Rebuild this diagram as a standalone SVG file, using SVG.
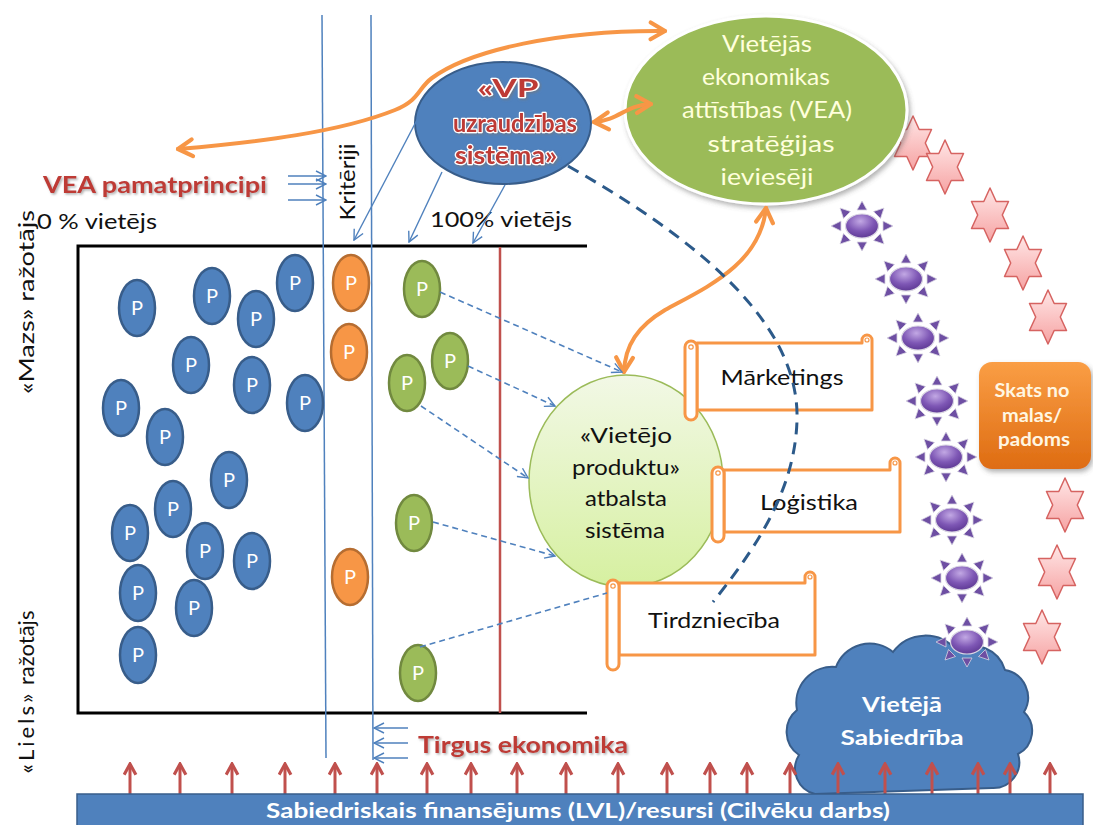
<svg xmlns="http://www.w3.org/2000/svg" width="1093" height="825" viewBox="0 0 1093 825">
<defs>
<style>
text{font-family:Lato,"Liberation Sans",sans-serif}
.pb{fill:#4F81BD;stroke:#385D8A;stroke-width:2.5}
.po{fill:#F79646;stroke:#B66D31;stroke-width:2.5}
.pg{fill:#9BBB59;stroke:#71893F;stroke-width:2.5}
.pt{fill:#fff;font-size:20px;text-anchor:middle}
.red{fill:#BE3A36;font-weight:bold;filter:url(#ts)}
.lbl{fill:#111;font-size:22px}
.scroll{fill:#fff;stroke:#F79646;stroke-width:3;stroke-linejoin:round}
.thin{fill:none;stroke:#4F81BD;stroke-width:1.4}
.dsh{fill:none;stroke:#4F81BD;stroke-width:1.6;stroke-dasharray:6 4}
.or{fill:none;stroke:#F79646;stroke-width:4;stroke-linecap:round}
.ra{stroke:#C0504D;stroke-width:3;marker-end:url(#ar)}
.mid{text-anchor:middle}
.glow{stroke:#fff;stroke-width:2.5;paint-order:stroke;stroke-linejoin:round}
</style>
<filter id="ts" x="-5%" y="-20%" width="110%" height="150%"><feDropShadow dx="1.5" dy="1.5" stdDeviation="1" flood-color="#777" flood-opacity="0.6"/></filter>
<filter id="sh" x="-10%" y="-10%" width="120%" height="130%"><feDropShadow dx="2" dy="3" stdDeviation="2.5" flood-color="#555" flood-opacity="0.45"/></filter>
<marker id="ao" viewBox="0 0 20 20" refX="16" refY="10" markerWidth="24" markerHeight="24" markerUnits="userSpaceOnUse" orient="auto-start-reverse"><path d="M4,3 L16,10 L4,17" fill="none" stroke="#F79646" stroke-width="3.5" stroke-linecap="round" stroke-linejoin="round"/></marker>
<marker id="ab" viewBox="0 0 12 12" refX="11" refY="6" markerWidth="12" markerHeight="12" markerUnits="userSpaceOnUse" orient="auto"><path d="M1,1 L11,6 L1,11" fill="none" stroke="#4F81BD" stroke-width="1.4"/></marker>
<marker id="ar" viewBox="0 0 14 14" refX="12" refY="7" markerWidth="15" markerHeight="15" markerUnits="userSpaceOnUse" orient="auto"><path d="M2,1.5 L12,7 L2,12.5" fill="none" stroke="#C0504D" stroke-width="3"/></marker>
<linearGradient id="gc" x1="0" y1="0" x2="0" y2="1"><stop offset="0" stop-color="#F2F8E6"/><stop offset="1" stop-color="#D6F0A0"/></linearGradient>
<linearGradient id="gob" x1="0" y1="0" x2="0" y2="1"><stop offset="0" stop-color="#FA9E45"/><stop offset="1" stop-color="#DE6C12"/></linearGradient>
<linearGradient id="gst" x1="0" y1="0" x2="0" y2="1"><stop offset="0" stop-color="#FFE6E6"/><stop offset="1" stop-color="#F6A3A3"/></linearGradient>
<radialGradient id="gsun" cx="0.45" cy="0.3" r="0.75"><stop offset="0" stop-color="#C2A8E4"/><stop offset="0.55" stop-color="#7E57B5"/><stop offset="1" stop-color="#5A3590"/></radialGradient>
<g id="star"><polygon points="0,-27 6.2,-13.5 18.5,-13.5 12.3,0 18.5,13.5 6.2,13.5 0,27 -6.2,13.5 -18.5,13.5 -12.3,0 -18.5,-13.5 -6.2,-13.5" fill="url(#gst)" stroke="#D66361" stroke-width="1.5" stroke-linejoin="round"/></g>
<g id="sun"><g fill="#6E4FA3" stroke="#D8D4E2" stroke-width="0.8"><polygon points="31,0 21,-5 21,5"/><polygon points="-31,0 -21,-5 -21,5"/><polygon points="0,25 -5,16 5,16"/><polygon points="0,-25 -5,-16 5,-16"/><polygon points="22,18 11.5,14.5 18.5,7.5"/><polygon points="-22,18 -11.5,14.5 -18.5,7.5"/><polygon points="-22,-18 -11.5,-14.5 -18.5,-7.5"/><polygon points="22,-18 11.5,-14.5 18.5,-7.5"/></g><ellipse rx="16.5" ry="12" fill="url(#gsun)" stroke="#D8D4E2" stroke-width="1.2"/></g>
</defs>
<rect width="1093" height="825" fill="#fff"/>

<g id="frame">
<path d="M587,246 H78 V713 H587" fill="none" stroke="#000" stroke-width="3"/>
<line x1="500" y1="247" x2="500" y2="713" stroke="#C0504D" stroke-width="2.5"/>
<line x1="322" y1="15" x2="326" y2="758" stroke="#4F81BD" stroke-width="1.5"/>
<line x1="371" y1="15" x2="373" y2="760" stroke="#4F81BD" stroke-width="1.5"/>
</g>

<g id="labels-axes">
<text transform="translate(34,302) rotate(-90)" class="lbl mid" font-size="21" textLength="184" lengthAdjust="spacingAndGlyphs">«Mazs» ražotājs</text>
<text transform="translate(34,692) rotate(-90)" class="lbl mid" font-size="23"><tspan letter-spacing="3">«Liels»</tspan> ražotājs</text>
<text x="97" y="229" class="lbl mid" textLength="120" lengthAdjust="spacingAndGlyphs">0 % vietējs</text>
<text x="501" y="227" class="lbl mid" textLength="142" lengthAdjust="spacingAndGlyphs">100% vietējs</text>
<text transform="translate(355,182) rotate(-90)" class="lbl mid" font-size="21" textLength="77" lengthAdjust="spacingAndGlyphs">Kritēriji</text>
<text x="155" y="193" class="red mid" font-size="23" textLength="224" lengthAdjust="spacingAndGlyphs">VEA  pamatprincipi</text>
<text x="523" y="753" class="red mid" font-size="22" textLength="210" lengthAdjust="spacingAndGlyphs">Tirgus  ekonomika</text>
</g>

<g id="producers">
<g id="pb1"><ellipse class="pb" cx="137" cy="308" rx="18" ry="28"/><text class="pt" x="137" y="315">P</text></g>
<g id="pb2"><ellipse class="pb" cx="212" cy="296" rx="18" ry="28"/><text class="pt" x="212" y="303">P</text></g>
<g id="pb3"><ellipse class="pb" cx="256" cy="319" rx="18" ry="28"/><text class="pt" x="256" y="326">P</text></g>
<g id="pb4"><ellipse class="pb" cx="295" cy="283" rx="18" ry="28"/><text class="pt" x="295" y="290">P</text></g>
<g id="pb5"><ellipse class="pb" cx="191" cy="365" rx="18" ry="28"/><text class="pt" x="191" y="372">P</text></g>
<g id="pb6"><ellipse class="pb" cx="252" cy="385" rx="18" ry="28"/><text class="pt" x="252" y="392">P</text></g>
<g id="pb7"><ellipse class="pb" cx="305" cy="403" rx="18" ry="28"/><text class="pt" x="305" y="410">P</text></g>
<g id="pb8"><ellipse class="pb" cx="121" cy="408" rx="18" ry="28"/><text class="pt" x="121" y="415">P</text></g>
<g id="pb9"><ellipse class="pb" cx="165" cy="437" rx="18" ry="28"/><text class="pt" x="165" y="444">P</text></g>
<g id="pb10"><ellipse class="pb" cx="229" cy="480" rx="18" ry="28"/><text class="pt" x="229" y="487">P</text></g>
<g id="pb11"><ellipse class="pb" cx="173" cy="509" rx="18" ry="28"/><text class="pt" x="173" y="516">P</text></g>
<g id="pb12"><ellipse class="pb" cx="130" cy="533" rx="18" ry="28"/><text class="pt" x="130" y="540">P</text></g>
<g id="pb13"><ellipse class="pb" cx="205" cy="551" rx="18" ry="28"/><text class="pt" x="205" y="558">P</text></g>
<g id="pb14"><ellipse class="pb" cx="252" cy="561" rx="18" ry="28"/><text class="pt" x="252" y="568">P</text></g>
<g id="pb15"><ellipse class="pb" cx="138" cy="593" rx="18" ry="28"/><text class="pt" x="138" y="600">P</text></g>
<g id="pb16"><ellipse class="pb" cx="194" cy="608" rx="18" ry="28"/><text class="pt" x="194" y="615">P</text></g>
<g id="pb17"><ellipse class="pb" cx="138" cy="655" rx="18" ry="28"/><text class="pt" x="138" y="662">P</text></g>
<g id="po1"><ellipse class="po" cx="351" cy="283" rx="18" ry="28"/><text class="pt" x="351" y="290">P</text></g>
<g id="po2"><ellipse class="po" cx="349" cy="352" rx="18" ry="28"/><text class="pt" x="349" y="359">P</text></g>
<g id="po3"><ellipse class="po" cx="350" cy="577" rx="18" ry="28"/><text class="pt" x="350" y="584">P</text></g>
<g id="pg1"><ellipse class="pg" cx="422" cy="289" rx="18" ry="28"/><text class="pt" x="422" y="296">P</text></g>
<g id="pg2"><ellipse class="pg" cx="450" cy="361" rx="18" ry="28"/><text class="pt" x="450" y="368">P</text></g>
<g id="pg3"><ellipse class="pg" cx="407" cy="383" rx="18" ry="28"/><text class="pt" x="407" y="390">P</text></g>
<g id="pg4"><ellipse class="pg" cx="414" cy="523" rx="18" ry="28"/><text class="pt" x="414" y="530">P</text></g>
<g id="pg5"><ellipse class="pg" cx="418" cy="673" rx="18" ry="28"/><text class="pt" x="418" y="680">P</text></g>
</g>

<g id="cloud">
<path d="M815,794 A26,26 0 0 1 799,755 A28,28 0 0 1 797,710 A36,36 0 0 1 836,667 A36,36 0 0 1 893,652 A40,40 0 0 1 956,650 A34,34 0 0 1 1005,670 A28,28 0 0 1 1024,712 A26,26 0 0 1 1018,754 A26,26 0 0 1 992,788 Z" fill="#4F81BD" stroke="#385D8A" stroke-width="2"/>
<text x="902" y="712" class="mid" fill="#fff" font-weight="bold" font-size="21" textLength="80" lengthAdjust="spacingAndGlyphs">Vietējā</text>
<text x="902" y="745" class="mid" fill="#fff" font-weight="bold" font-size="21" textLength="123" lengthAdjust="spacingAndGlyphs">Sabiedrība</text>
</g>

<g id="stars">
<use href="#star" x="913" y="143"/>
<use href="#star" x="945" y="167"/>
<use href="#star" x="990" y="215"/>
<use href="#star" x="1023" y="263"/>
<use href="#star" x="1048" y="317"/>
<use href="#star" x="1065" y="505"/>
<use href="#star" x="1057" y="572"/>
<use href="#star" x="1042" y="637"/>
</g>
<g id="suns">
<use href="#sun" x="862" y="226"/>
<use href="#sun" x="906" y="279"/>
<use href="#sun" x="918" y="338"/>
<use href="#sun" x="937" y="401"/>
<use href="#sun" x="946" y="457"/>
<use href="#sun" x="952" y="520"/>
<use href="#sun" x="962" y="578"/>
<use href="#sun" x="967" y="642"/>
</g>

<g id="vp-system">
<ellipse cx="503" cy="123" rx="88" ry="61" fill="#4F81BD" stroke="#385D8A" stroke-width="2"/>
<text x="508" y="97" class="red mid glow" font-size="25" textLength="61" lengthAdjust="spacingAndGlyphs">«VP</text>
<text x="515" y="132" class="red mid glow" font-size="25" textLength="124" lengthAdjust="spacingAndGlyphs">uzraudzības</text>
<text x="506" y="164" class="red mid glow" font-size="25" textLength="102" lengthAdjust="spacingAndGlyphs">sistēma»</text>
</g>

<g id="vea-implementers">
<ellipse cx="766" cy="110" rx="141" ry="94" fill="#9BBB59" stroke="#fff" stroke-width="3" filter="url(#sh)"/>
<g fill="#FFFFDC" font-size="24" class="mid">
<text x="767" y="52" textLength="90" lengthAdjust="spacingAndGlyphs">Vietējās</text>
<text x="766" y="85" textLength="128" lengthAdjust="spacingAndGlyphs">ekonomikas</text>
<text x="767" y="118" textLength="170" lengthAdjust="spacingAndGlyphs">attīstības (VEA)</text>
<text x="771" y="152" textLength="127" lengthAdjust="spacingAndGlyphs">stratēģijas</text>
<text x="767" y="185" textLength="93" lengthAdjust="spacingAndGlyphs">ieviesēji</text>
</g>
</g>

<g id="support-system">
<ellipse cx="626" cy="481" rx="97" ry="106" fill="url(#gc)" stroke="#9BBB59" stroke-width="1.5"/>
<text x="626" y="443" class="lbl mid" textLength="92" lengthAdjust="spacingAndGlyphs">«Vietējo</text>
<text x="626" y="475" class="lbl mid" textLength="108" lengthAdjust="spacingAndGlyphs">produktu»</text>
<text x="626" y="506" class="lbl mid" textLength="82" lengthAdjust="spacingAndGlyphs">atbalsta</text>
<text x="625" y="538" class="lbl mid" textLength="80" lengthAdjust="spacingAndGlyphs">sistēma</text>
</g>

<g id="scroll-marketings">
<path class="scroll" d="M697,343 H862 V340 A5,5 0 0 1 872,340 V410 H697 Z"/>
<circle cx="867" cy="340" r="2" fill="none" stroke="#F79646" stroke-width="1.2"/>
<rect class="scroll" x="685" y="341" width="12" height="79" rx="6"/>
<circle cx="691" cy="347" r="2.2" fill="none" stroke="#F79646" stroke-width="1.2"/>
<text x="782" y="385" class="lbl mid" textLength="123" lengthAdjust="spacingAndGlyphs">Mārketings</text>
</g>
<g id="scroll-logistika">
<path class="scroll" d="M724,470 H890 V463 A5,5 0 0 1 900,463 V532 H724 Z"/>
<circle cx="895" cy="463" r="2" fill="none" stroke="#F79646" stroke-width="1.2"/>
<rect class="scroll" x="712" y="467" width="12" height="75" rx="6"/>
<circle cx="718" cy="473" r="2.2" fill="none" stroke="#F79646" stroke-width="1.2"/>
<text x="809" y="510" class="lbl mid" textLength="98" lengthAdjust="spacingAndGlyphs">Loģistika</text>
</g>
<g id="scroll-tirdznieciba">
<path class="scroll" d="M619,583 H805 V577 A5,5 0 0 1 815,577 V655 H619 Z"/>
<circle cx="810" cy="577" r="2" fill="none" stroke="#F79646" stroke-width="1.2"/>
<rect class="scroll" x="607" y="580" width="12" height="90" rx="6"/>
<circle cx="613" cy="586" r="2.2" fill="none" stroke="#F79646" stroke-width="1.2"/>
<text x="714" y="628" class="lbl mid" textLength="132" lengthAdjust="spacingAndGlyphs">Tirdzniecība</text>
</g>

<g id="advice">
<rect x="979" y="362" width="112" height="107" rx="13" fill="url(#gob)" filter="url(#sh)"/>
<g fill="#FFF6E2" font-size="18" font-weight="bold" class="mid">
<text x="1032" y="397" textLength="75" lengthAdjust="spacingAndGlyphs">Skats no</text>
<text x="1032" y="422" textLength="60" lengthAdjust="spacingAndGlyphs">malas/</text>
<text x="1034" y="446" textLength="72" lengthAdjust="spacingAndGlyphs">padoms</text>
</g>
</g>

<g id="connectors">
<path class="or" d="M178,149 C260,142 340,132 395,110 C420,100 418,88 432,78 C470,50 560,30 665,31" marker-start="url(#ao)" marker-end="url(#ao)"/>
<path class="or" d="M594,122 C620,120 625,105 651,104" marker-start="url(#ao)" marker-end="url(#ao)"/>
<path class="or" d="M766,208 C760,265 705,288 665,310 C638,326 625,345 624,372" marker-start="url(#ao)" marker-end="url(#ao)"/>
<path d="M568,166 C690,235 800,320 797,420 C795,495 750,555 713,602" fill="none" stroke="#2C5A8A" stroke-width="3" stroke-dasharray="12 8"/>
<line class="thin" x1="418" y1="118" x2="354" y2="240" marker-end="url(#ab)"/>
<line class="thin" x1="442" y1="172" x2="409" y2="242" marker-end="url(#ab)"/>
<line class="thin" x1="505" y1="185" x2="473" y2="243" marker-end="url(#ab)"/>
<line class="thin" x1="288" y1="176" x2="326" y2="176" marker-end="url(#ab)"/>
<line class="thin" x1="288" y1="184" x2="326" y2="184" marker-end="url(#ab)"/>
<line class="thin" x1="288" y1="200" x2="326" y2="200" marker-end="url(#ab)"/>
<line class="thin" x1="408" y1="728" x2="374" y2="728" marker-end="url(#ab)"/>
<line class="thin" x1="408" y1="743" x2="374" y2="743" marker-end="url(#ab)"/>
<line class="thin" x1="408" y1="758" x2="374" y2="758" marker-end="url(#ab)"/>
<line class="dsh" x1="440" y1="292" x2="622" y2="372" marker-end="url(#ab)"/>
<line class="dsh" x1="468" y1="366" x2="555" y2="406" marker-end="url(#ab)"/>
<line class="dsh" x1="421" y1="406" x2="528" y2="478" marker-end="url(#ab)"/>
<line class="dsh" x1="433" y1="522" x2="555" y2="556" marker-end="url(#ab)"/>
<line class="dsh" x1="420" y1="647" x2="607" y2="593"/>
<g id="funding-arrows">
<line class="ra" x1="130" y1="794" x2="130" y2="764"/>
<line class="ra" x1="180" y1="794" x2="180" y2="764"/>
<line class="ra" x1="232" y1="794" x2="232" y2="764"/>
<line class="ra" x1="285" y1="794" x2="285" y2="764"/>
<line class="ra" x1="335" y1="794" x2="335" y2="764"/>
<line class="ra" x1="377" y1="794" x2="377" y2="764"/>
<line class="ra" x1="427" y1="794" x2="427" y2="764"/>
<line class="ra" x1="471" y1="794" x2="471" y2="764"/>
<line class="ra" x1="517" y1="794" x2="517" y2="764"/>
<line class="ra" x1="566" y1="794" x2="566" y2="764"/>
<line class="ra" x1="618" y1="794" x2="618" y2="764"/>
<line class="ra" x1="667" y1="794" x2="667" y2="764"/>
<line class="ra" x1="710" y1="794" x2="710" y2="764"/>
<line class="ra" x1="747" y1="794" x2="747" y2="764"/>
<line class="ra" x1="790" y1="794" x2="790" y2="764"/>
<line class="ra" x1="838" y1="794" x2="838" y2="764"/>
<line class="ra" x1="885" y1="794" x2="885" y2="764"/>
<line class="ra" x1="932" y1="794" x2="932" y2="764"/>
<line class="ra" x1="978" y1="794" x2="978" y2="764"/>
<line class="ra" x1="1010" y1="794" x2="1010" y2="764"/>
<line class="ra" x1="1050" y1="794" x2="1050" y2="764"/>
</g>
</g>

<g id="funding-bar">
<rect x="77" y="794" width="1006" height="36" fill="#4F81BD" stroke="#385D8A" stroke-width="1.5"/>
<text x="578" y="818" class="mid" fill="#fff" font-weight="bold" font-size="21" textLength="624" lengthAdjust="spacingAndGlyphs">Sabiedriskais finansējums (LVL)/resursi (Cilvēku darbs)</text>
</g>
</svg>
